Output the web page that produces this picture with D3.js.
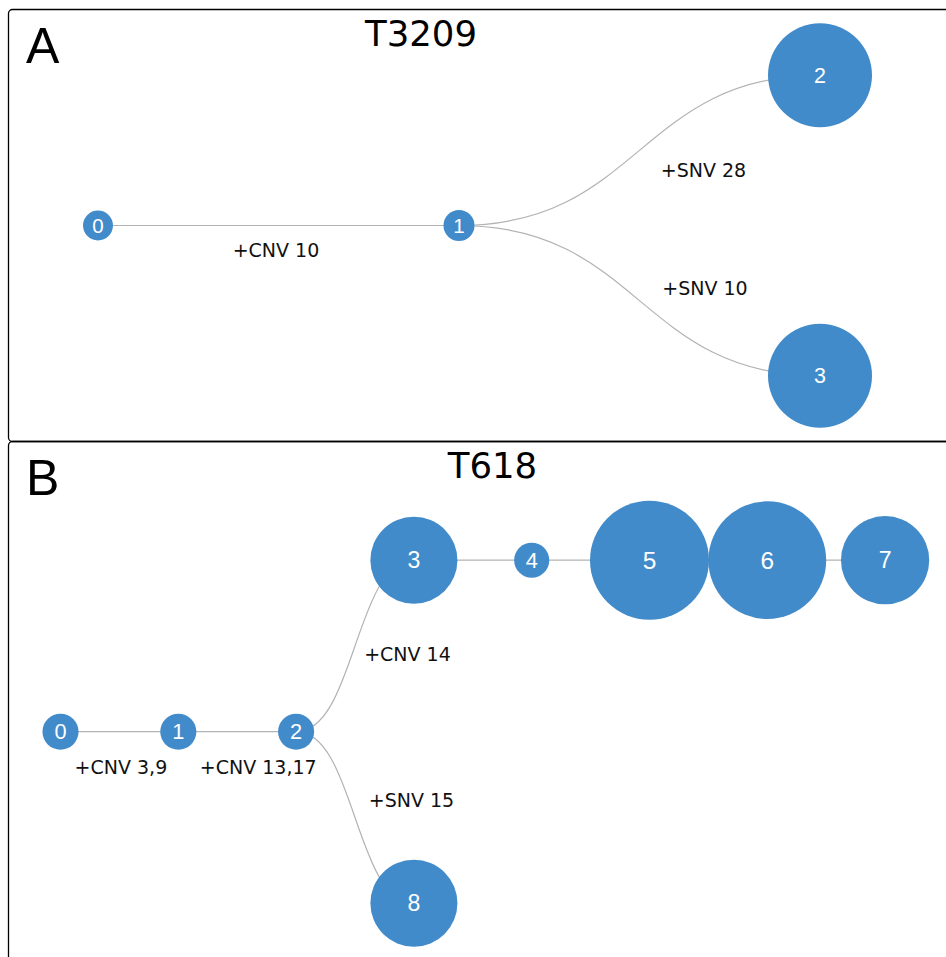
<!DOCTYPE html>
<html>
<head>
<meta charset="utf-8">
<script src="https://cdn.jsdelivr.net/npm/d3@7"></script>
<style>
  html, body { margin: 0; padding: 0; background: #fff; overflow: hidden; }
  svg { display: block; }
</style>
</head>
<body>
<svg id="chart" width="946" height="957"></svg>
<script>
// ---- Clone trees ----------------------------------------------------------
// Panel A: tumour T3209
const titleA   = "T3209";
const nodesA   = ["0", "1", "2", "3"];
const parentsA = [null, "0", "1", "1"];
const sizesA   = [0.083, 0.089, 1.0, 1.0];           // relative clone size
const eventsA  = [null, "+CNV 10", "+SNV 28", "+SNV 10"]; // event on edge into node

// Panel B: tumour T618
const titleB   = "T618";
const nodesB   = ["0", "1", "2", "3", "4", "5", "6", "7", "8"];
const parentsB = [null, "0", "1", "2", "3", "4", "5", "6", "2"];
const sizesB   = [0.092, 0.092, 0.092, 0.535, 0.087, 1.0, 0.98, 0.55, 0.535];
const eventsB  = [null, "+CNV 3,9", "+CNV 13,17", "+CNV 14", null, null, null, null, "+SNV 15"];

// ---- Drawing --------------------------------------------------------------
const svg = d3.select("#chart");
const NODE = "#428bca", LINK = "#b3b3b3";

function drawPanel(cfg) {
  const g = svg.append("g").attr("transform", `translate(0,${cfg.top})`);

  g.append("rect")
    .attr("x", 8.5).attr("y", 0.5)
    .attr("width", cfg.width).attr("height", cfg.height)
    .attr("rx", 4).attr("ry", 4)
    .attr("fill", "none").attr("stroke", "#000").attr("stroke-width", 1.3);

  g.append("text")
    .attr("x", 26).attr("y", 53.5)
    .attr("font-family", "Liberation Sans, Arial, sans-serif")
    .attr("font-size", 50)
    .text(cfg.letter);

  g.append("text")
    .attr("x", cfg.titleWidth / 2).attr("y", 37)
    .attr("text-anchor", "middle")
    .attr("font-family", "DejaVu Sans, sans-serif")
    .attr("font-size", 35.5)
    .text(cfg.title);

  const table = cfg.nodes.map((id, i) => ({
    id, parent: cfg.parents[i], size: cfg.sizes[i], event: cfg.events[i]
  }));
  const root = d3.stratify().id(d => d.id).parentId(d => d.parent)(table);

  d3.tree()
    .nodeSize([cfg.rowStep, cfg.colStep])
    (root);

  // tree x -> vertical, tree y -> horizontal
  const px = d => cfg.origin[0] + d.y;
  const py = d => cfg.origin[1] + d.x;

  const r = d3.scaleSqrt().domain([0, 1]).range([0, cfg.rMax]);
  // node id label grows slightly with the clone size
  const fs = d3.scaleLinear().domain([0, 1]).range(cfg.idFont);

  const link = d3.linkHorizontal().x(px).y(py);
  g.append("g").selectAll("path")
    .data(root.links())
    .join("path")
    .attr("d", link)
    .attr("fill", "none")
    .attr("stroke", LINK)
    .attr("stroke-width", 1.2);

  // edge event labels, placed next to the link midpoint
  g.append("g").selectAll("text")
    .data(root.links().filter(l => l.target.data.event))
    .join("text")
    .attr("x", l => (px(l.source) + px(l.target)) / 2 + cfg.labelShift[l.target.id][0])
    .attr("y", l => (py(l.source) + py(l.target)) / 2 + cfg.labelShift[l.target.id][1] + 6.9)
    .attr("text-anchor", "middle")
    .attr("font-family", "DejaVu Sans, sans-serif")
    .attr("font-size", 19)
    .attr("fill", "#111")
    .text(l => l.target.data.event);

  const node = g.append("g").selectAll("g")
    .data(root.descendants())
    .join("g")
    .attr("transform", d => `translate(${px(d)},${py(d)})`);

  node.append("circle")
    .attr("r", d => r(d.data.size))
    .attr("fill", NODE);

  node.append("text")
    .attr("text-anchor", "middle")
    .attr("y", d => fs(d.data.size) * 0.355)
    .attr("font-family", "Liberation Sans, Arial, sans-serif")
    .attr("font-size", d => fs(d.data.size))
    .attr("fill", "#fff")
    .text(d => d.id);
}

drawPanel({
  letter: "A", title: titleA,
  nodes: nodesA, parents: parentsA, sizes: sizesA, events: eventsA,
  top: 9, width: 1000, height: 432, titleWidth: 842,
  origin: [98, 216.5], colStep: 361, rowStep: 300.5, rMax: 52, idFont: [20.5, 21.5],
  labelShift: { "1": [-2.5, 24.5], "2": [64, 19.5], "3": [65.5, -13] }
});

drawPanel({
  letter: "B", title: titleB,
  nodes: nodesB, parents: parentsB, sizes: sizesB, events: eventsB,
  top: 441, width: 1000, height: 560, titleWidth: 985,
  origin: [60.5, 290.7], colStep: 117.8, rowStep: 343, rMax: 59.5, idFont: [21.5, 24.5],
  labelShift: { "1": [1.5, 35], "2": [21, 35], "3": [52.5, 7.7], "8": [56.5, -17] }
});
</script>
</body>
</html>
